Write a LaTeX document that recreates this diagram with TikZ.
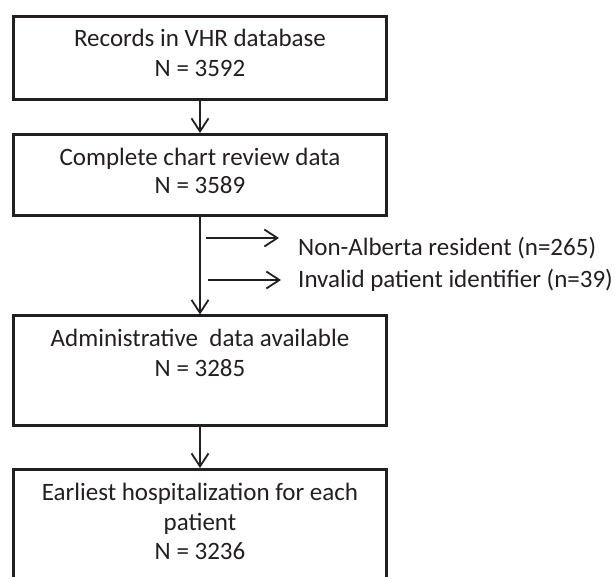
\documentclass[tikz,border=0pt]{standalone}
\usepackage{fontspec}
\setmainfont{Carlito}
\usetikzlibrary{arrows.meta}
\definecolor{ink}{HTML}{231F20}
\tikzset{
  boxshape/.style={draw=ink, line width=3pt, rectangle, inner sep=0pt},
  lbl/.style={anchor=base, inner sep=0pt, text=ink, font=\fontsize{25}{30}\selectfont},
  sidelbl/.style={anchor=base west, inner sep=0pt, text=ink, font=\fontsize{25}{30}\selectfont},
  flow/.style={draw=ink, line width=1.8pt, -{Straight Barb[length=13pt, width=17pt, line width=1.8pt]}}
}
\begin{document}
\begin{tikzpicture}[x=1pt, y=-1pt]
\useasboundingbox (0,0) rectangle (616,577);
\clip (0,0) rectangle (616,577);
% boxes
\node[boxshape, minimum width=373pt, minimum height=83pt] (b1) at (200,58) {};
\node[boxshape, minimum width=373pt, minimum height=81.5pt] (b2) at (200,175.25) {};
\node[boxshape, minimum width=373pt, minimum height=109pt] (b3) at (200,370.5) {};
\node[boxshape, minimum width=373pt, minimum height=140pt] (b4) at (200,539.5) {};
% texts
\node[lbl] (t1a) at (200,47) {Records in VHR database};
\node[lbl] (t1b) at (200,77) {N = 3592};
\node[lbl] (t2a) at (200,166) {Complete chart review data};
\node[lbl] (t2b) at (200,194) {N = 3589};
\node[lbl] (t3a) at (200,347) {Administrative\ \ data available};
\node[lbl] (t3b) at (200,377) {N = 3285};
\node[lbl] (t4a) at (200,500) {Earliest hospitalization for each};
\node[lbl] (t4b) at (200,530) {patient};
\node[lbl] (t4c) at (200,559) {N = 3236};
% side texts
\node[sidelbl] (s1) at (298,256) {Non-Alberta resident (n=265)};
\node[sidelbl] (s2) at (298,288) {Invalid patient identifier (n=39)};
% connectors
\draw[flow] (b1.south) -- (b2.north);
\draw[flow] (b2.south) -- (b3.north);
\draw[flow] (b3.south) -- (b4.north);
\coordinate (a1s) at (206,238);
\coordinate (a1e) at (279,238);
\coordinate (a2s) at (208,280);
\coordinate (a2e) at (281,280);
\draw[flow] (a1s) -- (a1e);
\draw[flow] (a2s) -- (a2e);
\end{tikzpicture}
\end{document}
